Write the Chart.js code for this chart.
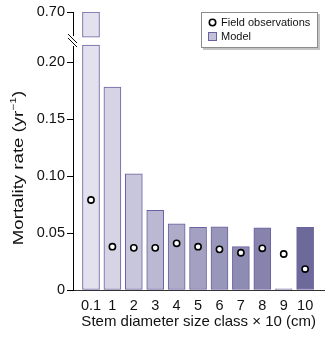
<!DOCTYPE html>
<html lang="en">
<head>
<meta charset="UTF-8">
<title>Mortality rate by stem diameter size class</title>
<style>
  html, body { margin: 0; padding: 0; background: #fff; }
  #wrap { width: 330px; height: 338px; }
</style>
</head>
<body>
<div id="wrap"><canvas id="chart"></canvas></div>
<script src="https://cdn.jsdelivr.net/npm/chart.js@4"></script>
<script>
const sizeClasses = ['0.1', '1', '2', '3', '4', '5', '6', '7', '8', '9', '10'];
const modelRate = [0.70, 0.178, 0.102, 0.070, 0.058, 0.055, 0.0555, 0.038, 0.0545, 0.001, 0.055];
const fieldRate = [0.079, 0.038, 0.037, 0.037, 0.041, 0.038, 0.0357, 0.0327, 0.0366, 0.0316, 0.0184];
const yTicks = [0, 0.05, 0.10, 0.15, 0.20, 0.70];

const barFill = ['#e3e1ed', '#d6d4e4', '#c8c6db', '#bbb9d1', '#aeacc8', '#a3a1c1',
                 '#9896b9', '#8e8cb3', '#8683ad', '#77749f', '#6d6a9b'];
const barEdge = '#6b60a3';
const FONT = "'Liberation Sans', Arial, sans-serif";

// broken y axis: 0..LOW_MAX true to scale, HIGH_MIN..0.70 squeezed above the break
const LOW_MAX = 0.215;
const HIGH_MIN = 0.68;
const HIGH_BASE = 0.222;
const HIGH_SCALE = 1.1;
const Y_TOP = HIGH_BASE + (0.70 - HIGH_MIN) * HIGH_SCALE;

function toAxis(v) {
  return v <= LOW_MAX ? v : HIGH_BASE + (v - HIGH_MIN) * HIGH_SCALE;
}

const lowerBars = modelRate.map((v, i) => ({ x: i, y: Math.min(v, LOW_MAX) }));
const upperBars = modelRate
  .map((v, i) => ({ x: i, y: [HIGH_BASE, toAxis(v)], v: v }))
  .filter(d => d.v > LOW_MAX);
const upperFill = barFill.filter((c, i) => modelRate[i] > LOW_MAX);
const points = fieldRate.map((v, i) => ({ x: i, y: v }));

const extras = {
  id: 'extras',
  afterDraw(chart) {
    const ctx = chart.ctx;
    const y = chart.scales.y;
    const ax = chart.chartArea.left;

    // axis break
    const yLo = y.getPixelForValue(LOW_MAX);
    const yHi = y.getPixelForValue(HIGH_BASE);
    ctx.save();
    ctx.fillStyle = '#fff';
    ctx.fillRect(ax - 2, yHi - 1, 4, yLo - yHi + 2);
    ctx.strokeStyle = '#000';
    ctx.lineWidth = 1;
    const mid = (yLo + yHi) / 2;
    [-2, 2].forEach(d => {
      ctx.beginPath();
      ctx.moveTo(ax - 5, mid + d - 5);
      ctx.lineTo(ax + 4, mid + d + 4);
      ctx.stroke();
    });
    ctx.restore();

    // y axis title with superscript (text in the original is drawn wide)
    ctx.save();
    ctx.translate(19, 168);
    ctx.rotate(-Math.PI / 2);
    ctx.scale(1.33, 1);
    ctx.fillStyle = '#111';
    ctx.textBaseline = 'middle';
    const main = 'Mortality rate (yr';
    const sup = '\u22121';
    ctx.font = '14px ' + FONT;
    const w1 = ctx.measureText(main).width;
    const w3 = ctx.measureText(')').width;
    ctx.font = '9px ' + FONT;
    const w2 = ctx.measureText(sup).width;
    const x = -(w1 + w2 + w3) / 2;
    ctx.font = '14px ' + FONT;
    ctx.fillText(main, x, 0);
    ctx.font = '9px ' + FONT;
    ctx.fillText(sup, x + w1, -5);
    ctx.font = '14px ' + FONT;
    ctx.fillText(')', x + w1 + w2, 0);
    ctx.restore();

    // legend
    const lx = 201, ly = 12, lw = 117, lh = 36;
    const ds = chart.data.datasets;
    ctx.save();
    ctx.fillStyle = '#c4c4c4';
    ctx.fillRect(lx + 2, ly + 2, lw, lh);
    ctx.fillStyle = '#fff';
    ctx.fillRect(lx, ly, lw, lh);
    ctx.strokeStyle = '#8c8c8c';
    ctx.lineWidth = 1;
    ctx.strokeRect(lx + 0.5, ly + 0.5, lw - 1, lh - 1);
    ctx.font = '11px ' + FONT;
    ctx.textBaseline = 'middle';
    ctx.beginPath();
    ctx.arc(212.5, 22.5, 3.2, 0, Math.PI * 2);
    ctx.fillStyle = '#fff';
    ctx.fill();
    ctx.strokeStyle = '#000';
    ctx.lineWidth = 1.6;
    ctx.stroke();
    ctx.fillStyle = '#111';
    ctx.fillText(ds[0].label, 221, 23);
    ctx.fillStyle = '#c3c1d8';
    ctx.fillRect(208.5, 32.5, 8, 8);
    ctx.strokeStyle = barEdge;
    ctx.lineWidth = 1;
    ctx.strokeRect(208.5, 32.5, 8, 8);
    ctx.fillStyle = '#111';
    ctx.fillText(ds[1].label, 221, 37);
    ctx.restore();
  }
};

new Chart(document.getElementById('chart'), {
  type: 'bar',
  data: {
    datasets: [
      {
        type: 'scatter',
        label: 'Field observations',
        data: points,
        pointStyle: 'circle',
        pointRadius: 3.1,
        pointBorderWidth: 1.6,
        pointBackgroundColor: '#fff',
        pointBorderColor: '#000',
        order: 0
      },
      {
        label: 'Model',
        data: lowerBars,
        backgroundColor: barFill,
        borderColor: barEdge,
        borderWidth: 1,
        borderSkipped: false,
        barThickness: 17,
        grouped: false,
        order: 1
      },
      {
        label: 'Model (above break)',
        data: upperBars,
        backgroundColor: upperFill,
        borderColor: barEdge,
        borderWidth: 1,
        borderSkipped: false,
        barThickness: 17,
        grouped: false,
        order: 1
      }
    ]
  },
  options: {
    responsive: true,
    maintainAspectRatio: false,
    animation: false,
    layout: { padding: { top: 12, right: 0, left: 0, bottom: 0 } },
    plugins: {
      legend: { display: false },
      tooltip: { enabled: false }
    },
    scales: {
      x: {
        type: 'linear',
        offset: false,
        min: -0.84,
        max: 10.9,
        afterBuildTicks: s => { s.ticks = sizeClasses.map((c, i) => ({ value: i })); },
        afterFit: s => { s.height = 48; },
        grid: { drawOnChartArea: false, drawTicks: false, offset: false },
        border: { color: '#333', width: 1 },
        ticks: {
          autoSkip: false,
          maxRotation: 0,
          padding: 7,
          color: '#111',
          font: { family: FONT, size: 14.5 },
          callback: v => sizeClasses[v]
        },
        title: {
          display: true,
          text: 'Stem diameter size class \u00d7 10 (cm)',
          color: '#111',
          font: { family: FONT, size: 15 },
          padding: { top: 0, bottom: 7 }
        }
      },
      y: {
        type: 'linear',
        min: 0,
        max: Y_TOP,
        afterBuildTicks: s => { s.ticks = yTicks.map(t => ({ value: toAxis(t) })); },
        afterFit: s => { s.width = 73; },
        grid: { drawOnChartArea: false, tickLength: 6, color: '#000' },
        border: { color: '#000', width: 1 },
        ticks: {
          padding: 2,
          color: '#111',
          font: { family: FONT, size: 14.5 },
          callback: (v, i) => yTicks[i] === 0 ? '0' : yTicks[i].toFixed(2)
        }
      }
    }
  },
  plugins: [extras]
});
</script>
</body>
</html>
